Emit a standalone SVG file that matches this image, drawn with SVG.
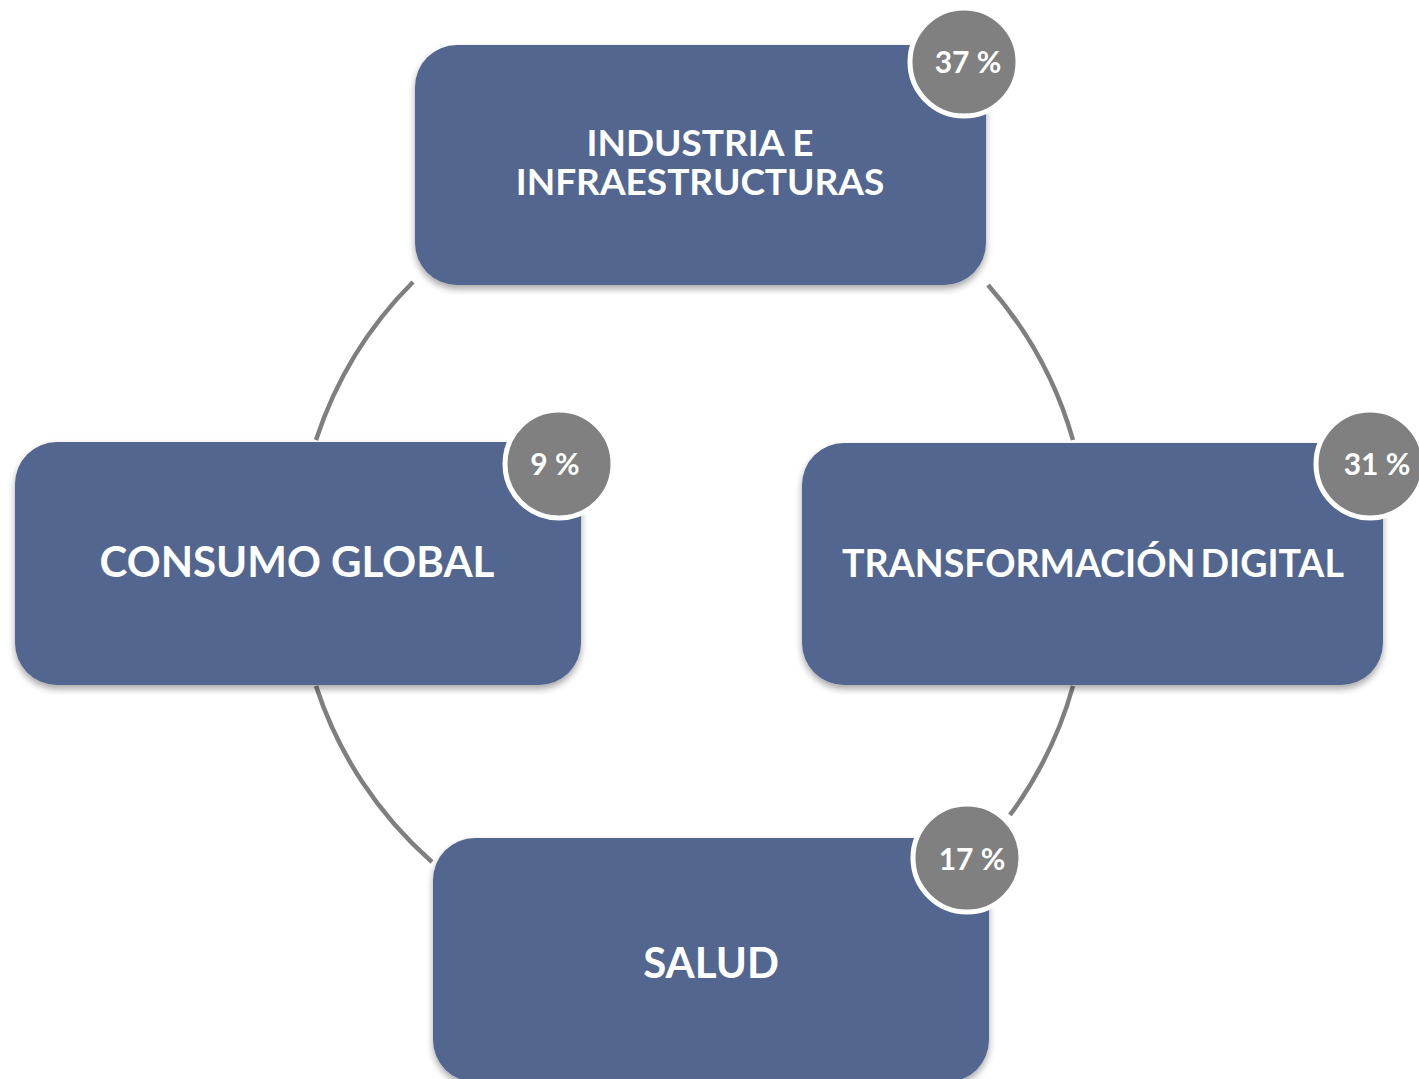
<svg xmlns="http://www.w3.org/2000/svg" width="1419" height="1079" viewBox="0 0 1419 1079">
<defs>
<filter id="sh" x="-10%" y="-10%" width="120%" height="130%">
<feDropShadow dx="0" dy="4" stdDeviation="3.5" flood-color="#000" flood-opacity="0.35"/>
</filter>
<style>
.box{fill:#52668F;filter:url(#sh);}
.lbl{font-family:Lato,"Liberation Sans",sans-serif;font-weight:bold;fill:#fff;text-anchor:middle;}
.badge{fill:#808080;stroke:#fff;stroke-width:5;}
.pct{font-family:Lato,"Liberation Sans",sans-serif;font-weight:bold;fill:#fff;text-anchor:middle;font-size:30px;}
.arc{fill:none;stroke:#7f7f7f;stroke-width:4.5;}
</style>
</defs>
<rect width="1419" height="1079" fill="#fff"/>
<g id="connectors">
<path class="arc" d="M316,440 A398,398 0 0 1 413,282"/>
<path class="arc" d="M988,285 A398,398 0 0 1 1073,440"/>
<path class="arc" d="M1073,686 A398,398 0 0 1 1010,815"/>
<path class="arc" d="M432,862 A398,398 0 0 1 316,686"/>
</g>
<g id="node-industria">
<rect class="box" x="415" y="45" width="571" height="240" rx="42"/>
<text class="lbl" font-size="37"><tspan x="700" y="156">INDUSTRIA E</tspan><tspan x="700" y="195">INFRAESTRUCTURAS</tspan></text>
<circle class="badge" cx="964" cy="62" r="54"/>
<text class="pct" x="968" y="73">37 %</text>
</g>
<g id="node-consumo">
<rect class="box" x="15" y="442" width="566" height="243" rx="42"/>
<text class="lbl" font-size="42" x="297" y="577">CONSUMO GLOBAL</text>
<circle class="badge" cx="559" cy="464" r="54"/>
<text class="pct" x="555" y="475">9 %</text>
</g>
<g id="node-transformacion">
<rect class="box" x="802" y="443" width="581" height="242" rx="42"/>
<text class="lbl" font-size="37.5" x="1093" y="577" word-spacing="-4">TRANSFORMACIÓN DIGITAL</text>
<circle class="badge" cx="1370" cy="464" r="54"/>
<text class="pct" x="1377" y="475">31 %</text>
</g>
<g id="node-salud">
<rect class="box" x="433" y="838" width="556" height="244" rx="42"/>
<text class="lbl" font-size="42" x="711" y="978">SALUD</text>
<circle class="badge" cx="967" cy="858" r="54"/>
<text class="pct" x="972" y="870">17 %</text>
</g>
</svg>
